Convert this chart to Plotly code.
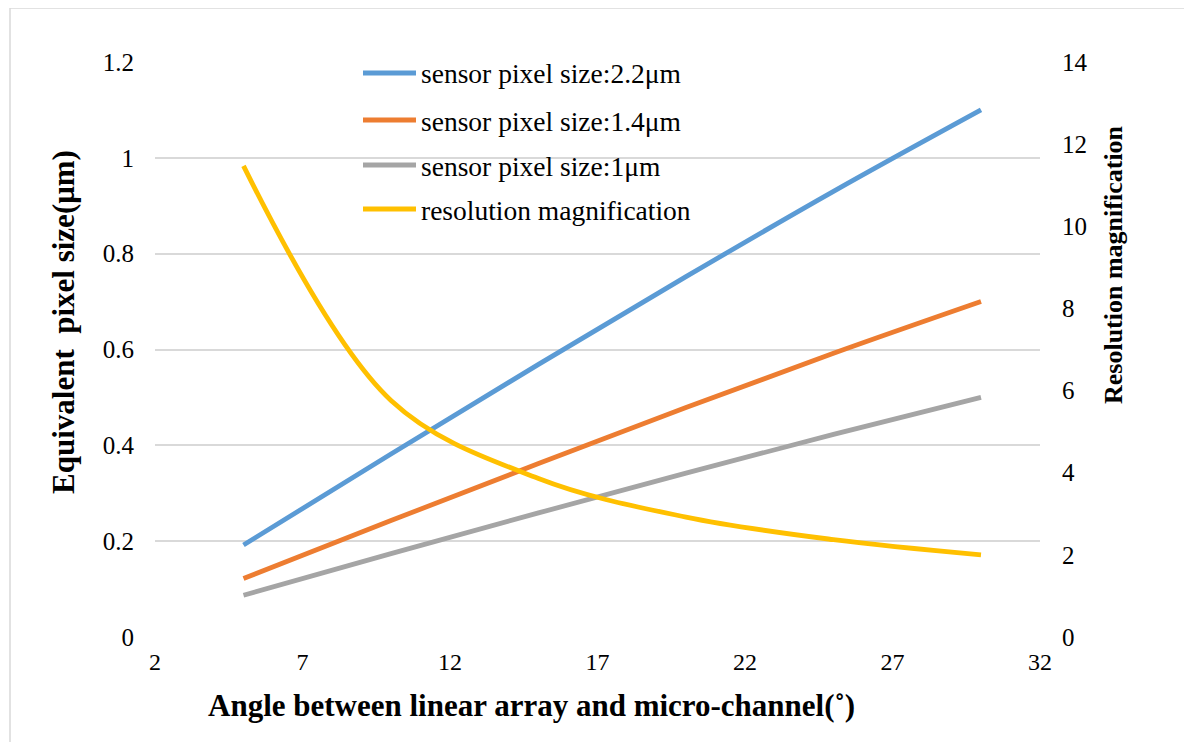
import plotly.graph_objects as go

angles = [5, 10, 15, 20, 25, 30]
pix_22 = [0.192, 0.382, 0.569, 0.752, 0.930, 1.100]
pix_14 = [0.122, 0.243, 0.362, 0.479, 0.592, 0.700]
pix_10 = [0.087, 0.174, 0.259, 0.342, 0.423, 0.500]
magnif = [11.47, 5.76, 3.86, 2.92, 2.37, 2.00]

names = ["sensor pixel size:2.2\u03bcm", "sensor pixel size:1.4\u03bcm",
         "sensor pixel size:1\u03bcm", "resolution magnification"]
colors = ["#5B9BD5", "#ED7D31", "#A5A5A5", "#FFC000"]

x_ticks = [2, 7, 12, 17, 22, 27, 32]
left_ticks = [0, 0.2, 0.4, 0.6, 0.8, 1.0, 1.2]
left_labels = ["0", "0.2", "0.4", "0.6", "0.8", "1", "1.2"]
right_ticks = [0, 2, 4, 6, 8, 10, 12, 14]

x_title = "Angle between linear array and micro-channel(\u02da)"
y_title = "Equivalent  pixel size(\u03bcm)"
y2_title = "Resolution magnification"

FONT = "Times New Roman, Liberation Serif, DejaVu Serif, serif"
BLACK = "#000000"

fig = go.Figure()
for i, (ys, yax) in enumerate([(pix_22, "y"), (pix_14, "y"), (pix_10, "y"), (magnif, "y2")]):
    fig.add_trace(go.Scatter(
        x=angles, y=ys, yaxis=yax, mode="lines", name=names[i],
        line=dict(color=colors[i], width=4.8, shape="spline", smoothing=1.0),
        showlegend=False,
    ))

W, H = 1192, 742
ml, mt = 147, 54
pw, ph = 885, 575
mr, mb = W - ml - pw, H - mt - ph

def px_x(sx):  # screenshot x -> paper
    return (sx - 155) / pw

def px_y(sy):  # screenshot y -> paper
    return (637 - sy) / ph

fig.update_layout(
    width=W, height=H,
    margin=dict(l=ml, r=mr, t=mt, b=mb, autoexpand=False),
    paper_bgcolor="white", plot_bgcolor="white",
    font=dict(family=FONT, color=BLACK, size=24),
    showlegend=False,
    xaxis=dict(
        range=[2, 32], tickvals=x_ticks, showgrid=False, zeroline=False,
        showline=False, ticks="", ticklabelstandoff=8,
        tickfont=dict(size=24, family=FONT, color=BLACK),
    ),
    yaxis=dict(
        range=[0, 1.2], tickvals=left_ticks, ticktext=left_labels,
        showgrid=True, gridcolor="#D9D9D9", gridwidth=1.5, zeroline=False,
        showline=False, ticks="", ticklabelstandoff=20,
        tickfont=dict(size=25, family=FONT, color=BLACK),
    ),
    yaxis2=dict(
        range=[0, 14], tickvals=right_ticks, overlaying="y", side="right",
        showgrid=False, zeroline=False, showline=False, ticks="",
        ticklabelstandoff=21, tickfont=dict(size=25, family=FONT, color=BLACK),
    ),
)

# custom legend (line sample + text)
legend_rows = [73, 120, 165, 209]
for i, ly in enumerate(legend_rows):
    fig.add_shape(type="line", xref="paper", yref="paper",
                  x0=px_x(363), x1=px_x(416), y0=px_y(ly), y1=px_y(ly),
                  line=dict(color=colors[i], width=4.8), layer="above")
    fig.add_annotation(text=names[i], xref="paper", yref="paper",
                       x=px_x(419), y=px_y(ly + 1), xanchor="left", yanchor="middle",
                       showarrow=False, font=dict(size=27.5, family=FONT, color=BLACK))

fig.add_annotation(text=f"<b>{x_title}</b>", xref="paper", yref="paper",
                   x=px_x(531), y=px_y(705), xanchor="center", yanchor="middle",
                   showarrow=False, font=dict(size=31, family=FONT, color=BLACK))
fig.add_annotation(text=f"<b>{y_title}</b>", xref="paper", yref="paper",
                   x=px_x(63), y=px_y(322), xanchor="center", yanchor="middle",
                   showarrow=False, textangle=-90,
                   font=dict(size=31, family=FONT, color=BLACK))
fig.add_annotation(text=f"<b>{y2_title}</b>", xref="paper", yref="paper",
                   x=px_x(1113), y=px_y(265), xanchor="center", yanchor="middle",
                   showarrow=False, textangle=-90,
                   font=dict(size=26, family=FONT, color=BLACK))

# outer chart border
fig.add_shape(type="rect", xref="paper", yref="paper",
              x0=px_x(10), x1=px_x(1189), y0=px_y(750), y1=px_y(8),
              line=dict(color="#D9D9D9", width=1.5), layer="below")

fig.write_html("out.html")
